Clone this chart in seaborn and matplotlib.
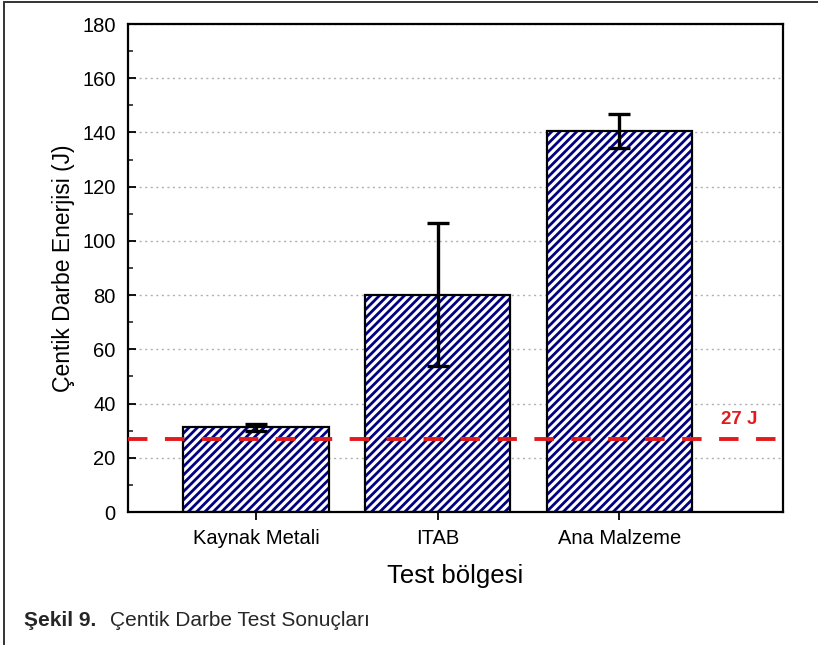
import matplotlib
matplotlib.use("Agg")
import matplotlib.pyplot as plt
import seaborn as sns
import pandas as pd
from matplotlib.patches import Rectangle
from matplotlib.ticker import MultipleLocator

categories = ["Kaynak Metali", "ITAB", "Ana Malzeme"]
energy = [31.3, 80.1, 140.6]
err = [1.3, 26.4, 6.2]
limit_value = 27
limit_label = "27 J"

sns.set_theme(style="white")
plt.rcParams['font.family'] = ['Liberation Sans', 'DejaVu Sans']
plt.rcParams['hatch.linewidth'] = 2.0

fig = plt.figure(figsize=(8.18, 6.45), dpi=100)
ax = fig.add_axes([128/818, 1-512/645, (783-128)/818, (512-24)/645])

df = pd.DataFrame({"bolge": categories, "enerji": energy})
sns.barplot(data=df, x="bolge", y="enerji", ax=ax, color="white", width=0.8,
            errorbar=None, zorder=2)

for p in list(ax.patches):
    p.set_facecolor("white")
    p.set_edgecolor("#000080")
    p.set_hatch("////")
    p.set_linewidth(0)
    ax.add_patch(Rectangle(p.get_xy(), p.get_width(), p.get_height(),
                           fill=False, edgecolor="black", linewidth=1.6, zorder=3))

ax.errorbar(range(len(categories)), energy, yerr=err, fmt="none", ecolor="black",
            elinewidth=2.4, capsize=8, capthick=2.4, zorder=4)

ax.axhline(limit_value, color="#e31a1c", linestyle=(0, (5, 4.5)), linewidth=2.8, zorder=5)
ax.text(2.66, 34, limit_label, color="#e31a1c", fontsize=13.5, fontweight="bold",
        ha="center", va="center")

ax.set_ylim(0, 180)
ax.set_xlim(-0.705, 2.9)
ax.yaxis.set_major_locator(MultipleLocator(20))
ax.yaxis.set_minor_locator(MultipleLocator(10))
ax.grid(axis="y", which="major", color="#b0b0b0", linestyle=(0, (1.5, 2.5)), linewidth=1, zorder=0)
ax.set_axisbelow(True)

for s in ax.spines.values():
    s.set_color("black")
    s.set_linewidth(1.6)

ax.tick_params(axis="y", which="major", direction="in", length=6, width=1.3,
               labelsize=14.5, pad=9, left=True, colors="black")
ax.tick_params(axis="y", which="minor", direction="in", length=3.5, width=1.2, left=True)
ax.tick_params(axis="x", which="major", direction="out", length=6, width=1.3,
               labelsize=14.5, pad=6, bottom=True, colors="black")

ax.set_xlabel("Test bölgesi", fontsize=18.5, labelpad=12, color="black")
ax.set_ylabel("Çentik Darbe Enerjisi (J)", fontsize=16.5, labelpad=5, color="black")

fig.patches.append(Rectangle((4/818, -0.5), 2, 0.5 + 1 - 2/645, transform=fig.transFigure,
                             fill=False, edgecolor="#333333", linewidth=1.4))

fig.text(24/818, 1-620/645, "Şekil 9.", fontsize=15, fontweight="bold", va="center", ha="left")
fig.text(110/818, 1-620/645, "Çentik Darbe Test Sonuçları", fontsize=15, va="center", ha="left")

fig.savefig("out.png", dpi=100)
